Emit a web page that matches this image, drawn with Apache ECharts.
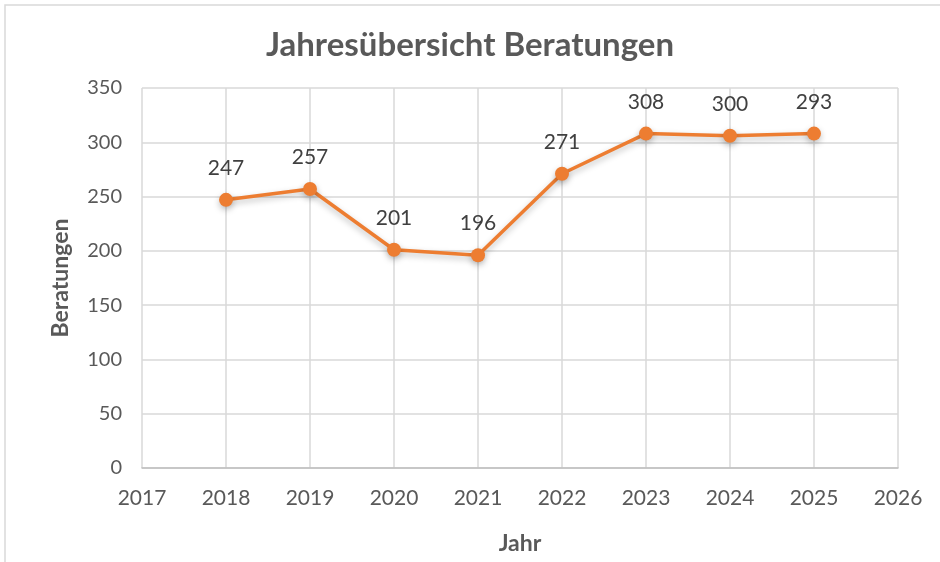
<!DOCTYPE html>
<html>
<head>
<meta charset="utf-8">
<script src="https://cdn.jsdelivr.net/npm/echarts@6/dist/echarts.min.js"></script>
<style>
  html, body { margin: 0; padding: 0; background: #fff; }
  #chart { width: 940px; height: 562px; }
</style>
</head>
<body>
<div id="chart"></div>
<script>
// Jahre und Werte (Punktpositionen)
var years = [2018, 2019, 2020, 2021, 2022, 2023, 2024, 2025];
var values = [247, 257, 201, 196, 271, 308, 306, 308];
// Beschriftungen wie im Original angezeigt
var labels = ['247', '257', '201', '196', '271', '308', '300', '293'];

var chart = echarts.init(document.getElementById('chart'));
var font = 'Lato, "Open Sans", sans-serif';

var option = {
    backgroundColor: '#fff',
    textStyle: { fontFamily: font },
    graphic: [{
        type: 'rect',
        shape: { x: 5, y: 5, width: 960, height: 600 },
        style: { fill: 'none', stroke: '#d9d9d9', lineWidth: 1.5 },
        silent: true
    }],
    title: {
        text: 'Jahresübersicht Beratungen',
        left: 'center',
        top: 24,
        textStyle: { fontFamily: font, fontSize: 33, fontWeight: 'bold', color: '#595959' }
    },
    grid: { left: 142, right: 42, top: 88, bottom: 94 },
    xAxis: {
        type: 'value',
        min: 2017,
        max: 2026,
        interval: 1,
        name: 'Jahr',
        nameLocation: 'middle',
        nameGap: 64,
        nameTextStyle: { fontSize: 23, fontWeight: 'bold', color: '#595959' },
        axisLine: { show: true, onZero: false, lineStyle: { color: '#bfbfbf', width: 1.5 } },
        axisTick: { show: false },
        axisLabel: { fontSize: 21, color: '#595959', margin: 20, formatter: function (v) { return String(v); } },
        splitLine: { show: true, lineStyle: { color: '#d9d9d9', width: 1.5 } }
    },
    yAxis: {
        type: 'value',
        min: 0,
        max: 350,
        interval: 50,
        name: 'Beratungen',
        nameLocation: 'middle',
        nameGap: 70,
        nameTextStyle: { fontSize: 23, fontWeight: 'bold', color: '#595959' },
        axisLine: { show: false },
        axisTick: { show: false },
        axisLabel: { fontSize: 20, color: '#595959', margin: 20 },
        splitLine: { show: true, lineStyle: { color: '#d9d9d9', width: 1.5 } }
    },
    series: [{
        type: 'line',
        data: years.map(function (y, i) { return [y, values[i]]; }),
        symbol: 'circle',
        symbolSize: 14,
        lineStyle: {
            color: '#ED7D31', width: 3.5,
            shadowColor: 'rgba(0,0,0,0.25)', shadowBlur: 6, shadowOffsetY: 3
        },
        itemStyle: {
            color: '#ED7D31',
            shadowColor: 'rgba(0,0,0,0.25)', shadowBlur: 6, shadowOffsetY: 3
        },
        label: {
            show: true,
            position: 'top',
            distance: 14,
            fontSize: 21,
            color: '#404040',
            formatter: function (p) { return labels[p.dataIndex]; }
        }
    }]
};

chart.setOption(option);
</script>
</body>
</html>
